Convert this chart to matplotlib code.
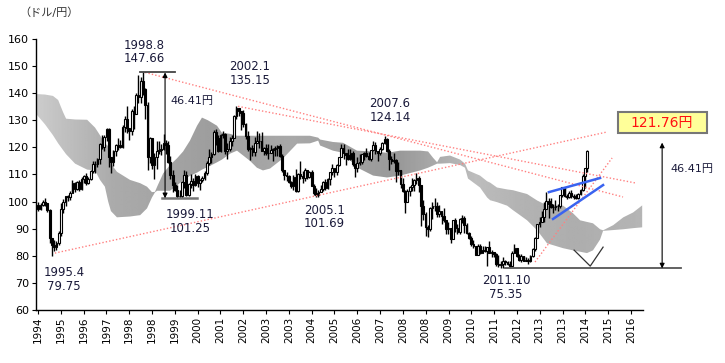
import numpy as np
import matplotlib.pyplot as plt
from matplotlib.patches import Rectangle

plt.rcParams['font.family'] = ['DejaVu Sans', 'Noto Sans CJK JP']

# monthly USD/JPY candles, Oct 1994 .. Nov 2014
first_month = (1994, 10)
first_open = 98.6
close = [97.3, 98.9, 99.7,
         99.5, 96.9, 86.5, 84.0, 83.4, 84.7, 88.4, 97.4, 99.7, 101.9, 101.6, 103.2,
         107.0, 104.8, 107.2, 104.5, 108.4, 109.6, 106.7, 108.5, 111.4, 114.0, 113.9, 115.9,
         121.4, 120.3, 123.9, 126.9, 116.5, 114.6, 118.5, 120.9, 120.9, 120.3, 127.7, 130.5,
         127.0, 126.1, 133.3, 132.4, 139.2, 138.7, 144.6, 141.4, 135.8, 116.4, 123.4, 113.6,
         116.4, 118.7, 118.9, 119.4, 121.7, 120.9, 114.7, 109.9, 106.2, 104.4, 102.1, 102.1,
         107.3, 109.9, 102.6, 106.4, 107.6, 106.1, 109.4, 106.8, 108.0, 108.8, 110.4, 114.4,
         116.4, 117.4, 125.5, 123.5, 118.8, 124.6, 125.0, 118.6, 119.3, 122.3, 123.5, 131.7,
         134.4, 133.6, 132.7, 128.5, 124.3, 119.5, 119.8, 118.4, 121.8, 122.5, 122.4, 118.8,
         119.9, 117.8, 118.1, 119.0, 119.3, 119.8, 120.6, 116.9, 111.5, 109.9, 109.6, 107.2,
         105.9, 109.1, 103.9, 110.3, 109.6, 108.8, 111.7, 109.2, 110.9, 105.9, 103.1, 102.6,
         103.7, 104.6, 107.2, 105.0, 108.5, 110.9, 112.4, 111.0, 113.4, 116.5, 119.8, 117.8,
         117.2, 115.8, 117.8, 113.8, 112.5, 114.4, 114.6, 117.4, 118.1, 116.9, 115.8, 119.0,
         121.0, 118.6, 117.8, 119.5, 121.7, 123.1, 118.7, 115.8, 114.8, 115.3, 111.2, 111.7,
         106.4, 103.9, 99.7, 104.0, 105.5, 106.2, 108.1, 108.8, 106.0, 98.5, 95.5, 90.6,
         89.9, 97.6, 98.3, 98.5, 95.3, 96.4, 94.7, 93.1, 89.8, 90.1, 86.2, 93.1,
         90.3, 88.9, 93.5, 94.0, 91.3, 88.4, 86.5, 84.2, 83.5, 80.4, 83.7, 81.2,
         82.0, 81.8, 83.1, 81.2, 81.5, 80.5, 76.8, 76.6, 77.0, 78.2, 77.6, 76.9,
         76.2, 81.2, 82.9, 80.0, 78.3, 79.8, 78.1, 78.4, 77.9, 79.8, 82.5, 86.7,
         91.7, 92.6, 94.2, 97.4, 100.4, 99.1, 97.9, 98.1, 98.2, 98.3, 102.4, 105.3,
         102.0, 101.8, 103.2, 102.2, 101.8, 101.3, 102.8, 104.1, 109.6, 112.3, 118.7]
high = [100.0, 99.4, 100.6,
        101.5, 99.6, 97.4, 86.4, 85.9, 85.6, 89.3, 99.5, 101.0, 102.1, 102.6, 103.8,
        107.9, 107.2, 107.5, 108.0, 108.9, 109.9, 110.6, 108.9, 111.6, 114.8, 114.8, 116.2,
        121.8, 124.6, 124.4, 127.2, 127.0, 116.2, 118.9, 121.3, 123.3, 122.8, 128.2, 131.6,
        135.2, 127.0, 134.0, 135.4, 139.9, 146.8, 146.0, 147.66, 142.1, 136.9, 124.0, 123.5,
        117.8, 122.3, 122.2, 121.2, 124.8, 122.6, 122.2, 116.7, 111.5, 107.2, 106.0, 104.4,
        107.5, 111.8, 111.3, 106.9, 110.1, 108.6, 110.0, 109.8, 108.4, 109.3, 111.4, 114.9,
        119.3, 118.3, 126.5, 126.8, 124.5, 124.9, 126.2, 125.3, 121.8, 123.7, 124.5, 132.0,
        135.15, 134.7, 133.6, 133.8, 128.9, 126.0, 120.3, 121.0, 124.0, 126.2, 125.4, 125.7,
        120.3, 121.4, 121.4, 121.0, 119.7, 120.5, 120.8, 121.1, 117.4, 111.8, 110.8, 109.8,
        107.5, 109.7, 112.1, 110.7, 114.9, 111.4, 112.3, 111.5, 111.4, 111.5, 106.6, 105.1,
        104.4, 106.0, 107.5, 108.2, 108.6, 111.0, 113.7, 112.0, 113.7, 116.6, 121.2, 121.4,
        118.0, 119.3, 119.3, 118.7, 113.8, 116.5, 117.5, 117.7, 118.3, 119.9, 118.2, 119.1,
        122.2, 121.9, 118.8, 120.3, 122.1, 124.14, 123.5, 119.4, 117.0, 117.9, 115.8, 114.7,
        111.7, 108.7, 104.2, 104.8, 105.8, 108.6, 108.5, 110.7, 109.5, 106.3, 100.5, 96.3,
        91.4, 98.1, 100.0, 101.5, 99.7, 98.9, 95.8, 97.8, 93.3, 92.3, 90.1, 93.1,
        93.8, 91.8, 93.8, 94.9, 94.7, 92.1, 88.8, 87.3, 85.9, 83.7, 84.2, 84.5,
        83.7, 83.6, 83.3, 85.5, 82.0, 81.5, 81.1, 80.2, 77.9, 79.5, 78.3, 78.1,
        78.2, 81.7, 84.2, 83.0, 80.5, 80.6, 79.9, 79.7, 79.2, 80.4, 82.8, 86.8,
        91.7, 94.5, 96.7, 99.9, 103.7, 101.5, 101.5, 99.2, 100.6, 99.0, 102.6, 105.4,
        105.4, 102.8, 103.8, 104.1, 102.8, 102.8, 103.1, 104.5, 110.1, 112.5, 118.98]
low = [96.5, 96.8, 98.2,
       98.5, 96.2, 84.6, 79.75, 81.8, 82.3, 84.0, 87.4, 95.9, 98.3, 100.2, 100.7,
       103.7, 103.5, 104.4, 104.0, 104.2, 106.8, 106.3, 106.4, 108.1, 110.7, 110.5, 112.6,
       114.0, 119.3, 118.6, 122.3, 112.9, 110.6, 113.1, 116.8, 119.1, 119.6, 119.9, 125.8,
       125.2, 122.7, 124.5, 126.9, 132.4, 136.4, 136.5, 139.3, 130.4, 111.6, 114.3, 112.0,
       108.2, 112.0, 117.5, 117.3, 119.2, 117.5, 114.2, 108.4, 103.6, 103.9, 101.25, 101.3,
       101.5, 104.9, 102.1, 101.9, 105.0, 103.9, 105.7, 105.3, 104.3, 107.2, 107.8, 109.8,
       113.5, 114.3, 117.3, 121.0, 118.2, 118.4, 123.3, 117.5, 115.9, 118.8, 120.5, 123.5,
       130.5, 131.7, 126.4, 127.6, 123.0, 118.7, 115.5, 116.9, 116.7, 121.7, 119.6, 118.6,
       117.1, 117.1, 115.9, 117.8, 115.0, 116.9, 116.9, 116.3, 110.9, 107.9, 107.5, 106.8,
       105.1, 104.2, 103.4, 103.6, 108.4, 106.9, 107.6, 108.4, 108.7, 105.6, 102.6, 101.8,
       101.69, 103.4, 103.8, 104.2, 104.5, 106.0, 109.9, 108.9, 109.9, 113.0, 116.3, 115.8,
       113.4, 115.4, 115.4, 113.2, 108.9, 110.8, 113.6, 113.7, 115.5, 116.6, 115.2, 115.1,
       118.5, 117.5, 115.1, 117.1, 119.2, 121.1, 118.3, 111.6, 113.8, 114.1, 107.2, 109.9,
       104.9, 103.4, 95.8, 99.7, 102.1, 103.8, 103.8, 106.6, 103.5, 90.9, 93.3, 87.2,
       87.1, 89.2, 93.5, 96.4, 94.5, 94.5, 91.7, 92.6, 88.2, 88.0, 84.8, 86.3,
       88.9, 88.1, 88.1, 92.1, 88.3, 88.2, 86.3, 83.6, 82.9, 80.2, 80.3, 80.8,
       81.6, 81.5, 76.3, 81.1, 79.6, 79.7, 76.3, 75.9, 75.6, 75.35, 76.6, 76.6,
       76.0, 76.1, 80.9, 79.5, 78.1, 77.7, 77.9, 78.1, 77.1, 77.8, 79.6, 81.7,
       86.5, 90.8, 92.6, 92.6, 97.3, 93.8, 97.6, 95.8, 96.9, 96.6, 97.6, 101.6,
       101.8, 100.8, 101.2, 101.4, 100.8, 101.1, 101.1, 102.3, 104.0, 105.2, 111.0]

# ichimoku cloud outline (year, upper, lower)
cloud_t = [1994.71, 1995.04, 1995.33, 1995.52, 1995.70, 1995.81, 1996.14, 1996.58, 1996.87,
           1997.05, 1997.23, 1997.35, 1997.45, 1997.67, 1998.15, 1998.52, 1998.77, 1998.95,
           1999.06, 1999.14, 1999.36, 1999.61, 1999.87, 2000.09, 2000.34, 2000.60, 2000.78,
           2001.00, 2001.33, 2001.51, 2001.81, 2002.06, 2002.54, 2002.79, 2003.01, 2003.27,
           2003.75, 2004.26, 2004.73, 2005.03, 2005.10, 2005.57, 2005.94, 2006.45, 2007.04,
           2007.55, 2008.03, 2008.76, 2009.05, 2009.23, 2009.38, 2009.49, 2009.85, 2010.22,
           2010.40, 2010.51, 2010.95, 2011.21, 2011.32, 2011.57, 2011.94, 2012.16, 2012.41,
           2012.67, 2013.04, 2013.40, 2013.99, 2014.35, 2014.61, 2014.86, 2015.08, 2015.34,
           2015.45, 2015.82, 2016.19, 2016.55, 2016.88]
cloud_top = [139.7, 139.5, 139.0, 137.5, 133.0, 130.6, 130.3, 130.2, 127.3,
             124.5, 121.5, 120.5, 114.0, 111.0, 108.0, 106.8, 105.5, 103.5,
             103.6, 105.5, 110.4, 113.5, 116.0, 118.5, 122.5, 128.0, 131.0,
             130.0, 128.0, 125.4, 125.0, 124.3, 124.3, 124.3, 124.3, 124.3,
             124.3, 124.3, 124.3, 123.6, 122.9, 122.0, 121.7, 118.8, 118.5,
             118.0, 118.8, 118.8, 118.5, 116.2, 114.5, 116.5, 117.0, 115.5,
             114.0, 111.5, 109.6, 107.5, 107.0, 105.2, 104.5, 104.2, 103.5,
             102.8, 100.4, 98.6, 98.5, 95.7, 93.1, 92.5, 92.0, 89.8,
             89.4, 91.3, 94.2, 96.0, 98.6]
cloud_bot = [132.4, 128.5, 124.5, 121.5, 119.0, 117.5, 114.0, 111.8, 111.5,
             108.0, 105.5, 100.0, 96.5, 94.2, 94.5, 95.0, 97.5, 101.5,
             103.4, 104.0, 104.0, 104.0, 106.0, 107.8, 109.5, 110.7, 111.8,
             112.8, 114.5, 115.5, 117.7, 118.8, 115.0, 112.5, 111.5, 112.2,
             116.0, 121.4, 121.5, 122.5, 120.7, 118.8, 118.0, 112.6, 109.6,
             108.9, 109.6, 111.5, 112.5, 113.3, 114.0, 114.0, 114.2, 113.5,
             112.5, 108.5, 105.2, 101.5, 100.5, 99.8, 98.5, 96.8, 95.0,
             93.1, 89.4, 84.6, 82.8, 82.0, 81.5, 81.0, 82.0, 86.0,
             89.2, 89.5, 89.8, 90.2, 90.5]

# trend lines drawn on the chart: (year, value) end points
resist_98 = [(1998.70, 147.66), (2016.18, 101.7)]
resist_02 = [(2002.10, 135.15), (2016.62, 106.9)]
support_95 = [(1995.40, 81.0), (2015.60, 125.7)]
support_12 = [(2012.96, 77.7), (2015.78, 116.1)]
wedge_top = [(2013.47, 103.5), (2015.34, 108.7)]
wedge_bot = [(2013.62, 93.6), (2015.45, 106.1)]
v_mark = [(2014.39, 82.1), (2014.98, 76.2), (2015.45, 83.2)]

peaks = [("1998.8\n147.66", 1998.66, 155.2), ("2002.1\n135.15", 2002.54, 147.3),
         ("2007.6\n124.14", 2007.66, 133.6), ("1999.11\n101.25", 2000.34, 92.7),
         ("2005.1\n101.69", 2005.25, 94.3), ("1995.4\n79.75", 1995.74, 71.3),
         ("2011.10\n75.35", 2011.90, 68.3)]

xlabels = ['1994', '1995', '1996', '1997', '1998', '1998', '1999', '2000', '2001', '2002',
           '2003', '2003', '2004', '2005', '2006', '2007', '2008', '2008', '2009', '2010',
           '2011', '2012', '2013', '2013', '2014', '2015', '2016']

fig = plt.figure(figsize=(7.25, 3.63), dpi=100)
ax = fig.add_axes([36/725, 1-310/363, 607/725, 271/363])

# cloud: grey fill with a soft left-to-right shading
poly = ax.fill_between(cloud_t, cloud_bot, cloud_top, color='none', lw=0, zorder=1)
shade_x = [1994.7, 1996.0, 1997.5, 2001.0, 2004.0, 2008.0, 2010.8, 2012.5, 2014.5, 2016.9]
shade_v = [0.80, 0.74, 0.67, 0.62, 0.66, 0.60, 0.74, 0.70, 0.68, 0.71]
gx = np.linspace(1994.7, 2016.9, 400)
grad = np.interp(gx, shade_x, shade_v)[None, :]
img = ax.imshow(grad, cmap='gray', vmin=0, vmax=1, aspect='auto',
                extent=[1994.7, 2016.9, 60, 160], zorder=1, interpolation='bilinear')
img.set_clip_path(poly.get_paths()[0], transform=ax.transData)

# candles
n = len(close)
t = first_month[0] + (first_month[1] - 1 + np.arange(n) + 0.5) / 12
c = np.array(close)
o = np.concatenate([[first_open], c[:-1]])
h = np.array(high)
l = np.array(low)
up = c >= o
ax.vlines(t, l, h, color='black', lw=1.0, zorder=3)
w = 0.065
ax.bar(t[up], (c - o)[up], bottom=o[up], width=w, color='white', edgecolor='black', lw=0.8, zorder=4)
ax.bar(t[~up], (o - c)[~up], bottom=c[~up], width=w, color='black', edgecolor='black', lw=0.8, zorder=4)

# trend lines
for seg in [resist_98, resist_02, support_95, support_12]:
    xs, ys = zip(*seg)
    ax.plot(xs, ys, color='#ff8080', lw=1.0, ls=(0, (1, 1.5)), zorder=5)
for seg in [wedge_top, wedge_bot]:
    xs, ys = zip(*seg)
    ax.plot(xs, ys, color='#3a63f0', lw=1.8, zorder=6)
xs, ys = zip(*v_mark)
ax.plot(xs, ys, color='#333333', lw=0.9, zorder=6)

# range markers
ax.plot([1998.52, 1999.80], [147.66, 147.66], color='#444444', lw=1.3, zorder=6)
ax.plot([1999.32, 2000.60], [101.25, 101.25], color='#777777', lw=1.8, zorder=6)
ax.annotate('', xy=(1999.43, 101.25), xytext=(1999.43, 147.66),
            arrowprops=dict(arrowstyle='<|-|>', color='black', lw=0.8, mutation_scale=7,
                            shrinkA=0, shrinkB=0), zorder=7)
ax.plot([2011.85, 2018.30], [75.35, 75.35], color='#555555', lw=1.3, zorder=6, clip_on=False)
ax.annotate('', xy=(2017.61, 75.35), xytext=(2017.61, 121.76), annotation_clip=False,
            arrowprops=dict(arrowstyle='<|-|>', color='black', lw=0.8, mutation_scale=7,
                            shrinkA=0, shrinkB=0), zorder=7)

for txt, tx, ty in peaks:
    ax.text(tx, ty, txt, ha='center', va='center', fontsize=8.5, color='#1a1a3a',
            linespacing=1.05, zorder=8)
ax.text(2000.42, 137.1, '46.41円', ha='center', va='center', fontsize=8, color='#1a1a3a')
ax.text(2018.71, 112.0, '46.41円', ha='center', va='center', fontsize=8, color='#1a1a3a',
        clip_on=False)

fig.patches.append(Rectangle((618/725, 1-133/363), 89/725, 21/363, transform=fig.transFigure,
                             facecolor='#ffff99', edgecolor='#777777', lw=1.5))
fig.text(662/725, 1-122.5/363, '121.76円', ha='center', va='center', fontsize=10, color='#ff1010')
fig.text(19/725, 1-13/363, '（ドル/円）', ha='left', va='center', fontsize=8, color='#333333')

ax.set_xlim(1994.71, 2016.91)
ax.set_ylim(60, 160)
ax.set_yticks(np.arange(60, 161, 10))
ax.set_xticks(1994.785 + 0.834 * np.arange(len(xlabels)))
ax.set_xticklabels(xlabels, rotation=90, fontsize=7.5)
ax.tick_params(axis='y', labelsize=8, length=3, width=0.8, pad=2)
ax.tick_params(axis='x', length=3, width=0.8, pad=2)
for s in ['top', 'right']:
    ax.spines[s].set_visible(False)
for s in ['left', 'bottom']:
    ax.spines[s].set_linewidth(1.0)

fig.savefig('out.png', dpi=100)
